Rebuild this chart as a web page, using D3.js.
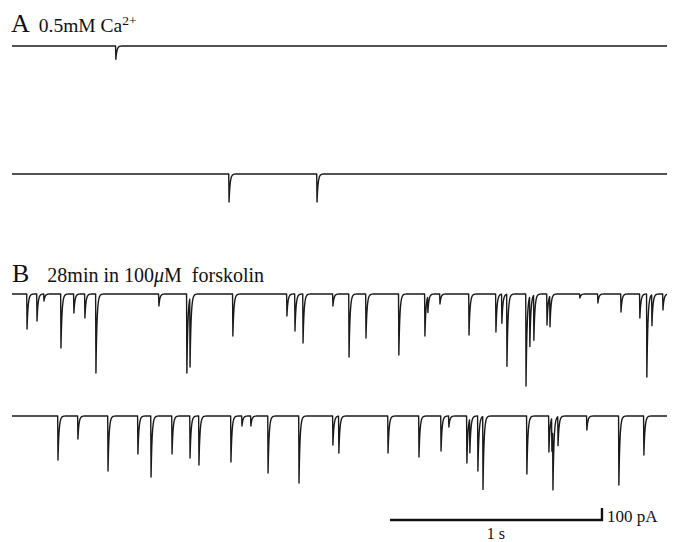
<!DOCTYPE html>
<html>
<head>
<meta charset="UTF-8">
<title>Miniature currents</title>
<script src="https://cdn.jsdelivr.net/npm/d3@7"></script>
<style>
  body { margin: 0; background: #fff; }
  text { font-family: "Liberation Serif", "DejaVu Serif", serif; fill: #111; }
</style>
</head>
<body>
<script>
// event times (ms from trace start) and amplitudes (pA, inward)
const a1Times = [490];
const a1Amps  = [110];
const a2Times = [1024, 1439];
const a2Amps  = [233, 233];

const b1Times = [71, 118, 151, 231, 292, 344, 396, 693, 825, 840, 1042, 1297, 1335, 1373,
                 1514, 1590, 1670, 1825, 1948, 1962, 2019, 2156, 2283, 2311, 2335, 2425, 2443,
                 2462, 2524, 2538, 2679, 2764, 2873, 2962, 2995, 3019, 3071];
const b1Amps  = [292, 225, 58, 450, 158, 200, 658, 100, 658, 575, 350, 183, 308, 408,
                 100, 525, 367, 508, 350, 133, 83, 342, 317, 242, 600, 767, 417,
                 375, 258, 258, 33, 75, 150, 200, 692, 258, 133];

const b2Times = [217, 311, 453, 594, 656, 755, 840, 882, 1033, 1085, 1127, 1208, 1354, 1514,
                 1542, 1774, 1920, 2024, 2061, 2146, 2160, 2198, 2222, 2429, 2533, 2547, 2552,
                 2576, 2712, 2863, 2981];
const b2Amps  = [367, 192, 458, 317, 508, 317, 350, 408, 383, 83, 83, 475, 558, 242,
                 308, 308, 342, 292, 92, 392, 283, 458, 608, 483, 300, 275, 508,
                 242, 117, 575, 325];

const traceLength = 3090; // ms
const width = 679, height = 542;

const svg = d3.select('body').append('svg')
  .attr('width', width)
  .attr('height', height);

const x = d3.scaleLinear().domain([0, traceLength]).range([12, 667]);
// 100 pA = 12 px
const pA = d3.scaleLinear().domain([0, 100]).range([0, 12]);

const line = d3.line().x(d => x(d[0])).y(d => d[1]);

function trace(times, amps, baseY) {
  const pts = [];
  for (let t = 0; t <= traceLength; t += 0.5) {
    let v = 0;
    times.forEach((t0, i) => {
      const dt = t - t0;
      if (dt >= -1.5 && dt < 0) v += amps[i] * (1 + dt / 1.5);
      else if (dt >= 0) v += amps[i] * Math.exp(-dt / 5);
    });
    pts.push([t, baseY + pA(v)]);
  }
  svg.append('path')
    .attr('d', line(pts))
    .attr('fill', 'none')
    .attr('stroke', '#1a1a1a')
    .attr('stroke-width', 1.4)
    .attr('stroke-linejoin', 'round');
}

trace(a1Times, a1Amps, 46);
trace(a2Times, a2Amps, 174);
trace(b1Times, b1Amps, 294);
trace(b2Times, b2Amps, 416);

// panel labels
const la = svg.append('text').attr('x', 11).attr('y', 32);
la.append('tspan').attr('font-size', 26).text('A');
la.append('tspan').attr('dx', 9).attr('font-size', 19.5).text('0.5mM Ca');
la.append('tspan').attr('font-size', 13.5).attr('dy', -7).text('2+');

const lb = svg.append('text').attr('x', 12).attr('y', 282);
lb.append('tspan').attr('font-size', 26).text('B');
lb.append('tspan').attr('dx', 18).attr('font-size', 20).text('28min in 100');
lb.append('tspan').attr('font-size', 20).attr('font-style', 'italic').text('\u03bc');
lb.append('tspan').attr('font-size', 20).text('M\u00a0 forskolin');

// scale bar: 1 s, 100 pA
const sbX0 = 390, sbY = 520;
const sbX1 = sbX0 + (x(1000) - x(0));
svg.append('path')
  .attr('d', `M${sbX0},${sbY}H${sbX1}V${sbY - pA(100)}`)
  .attr('fill', 'none')
  .attr('stroke', '#111')
  .attr('stroke-width', 2.4);
svg.append('text').attr('x', (sbX0 + sbX1) / 2).attr('y', 539)
  .attr('text-anchor', 'middle').attr('font-size', 16).text('1 s');
svg.append('text').attr('x', sbX1 + 5).attr('y', 522)
  .attr('font-size', 17).text('100 pA');
</script>
</body>
</html>
